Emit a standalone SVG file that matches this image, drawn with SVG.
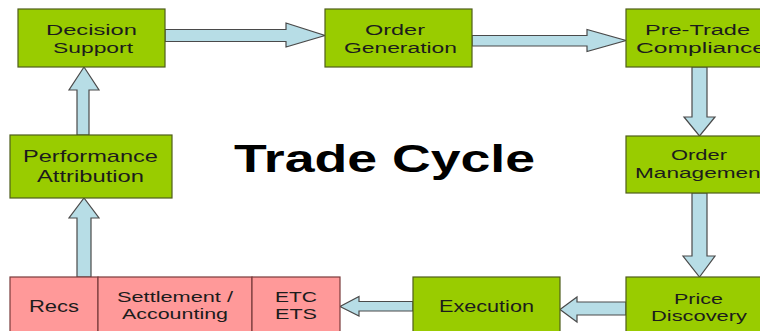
<svg xmlns="http://www.w3.org/2000/svg" width="760" height="331" viewBox="0 0 760 331">
  <style>
    .step { fill: #99cc00; stroke: #4f5e1c; stroke-width: 1.2; }
    .post { fill: #ff9999; stroke: #7a3b3b; stroke-width: 1.2; }
    .flow { fill: #b7dde6; stroke: #4a4a4a; stroke-width: 1.2; stroke-linejoin: miter; }
    .lbl { font-family: "Liberation Sans", Arial, sans-serif; font-size: 17px; fill: #1c1c1c; }
    .sm { font-size: 15.5px; }
    .title { font-family: "Liberation Sans", Arial, sans-serif; font-size: 38px; font-weight: bold; fill: #000; }
  </style>

  <rect width="760" height="331" fill="#ffffff"/>

  <!-- connectors: block arrows -->
  <g id="connectors">
    <!-- Decision Support -> Order Generation -->
    <polygon class="flow" points="165,29.5 286,29.5 286,23 325,35.5 286,47 286,41.5 165,41.5"/>
    <!-- Order Generation -> Pre-Trade Compliance -->
    <polygon class="flow" points="472,35.5 587,35.5 587,29.5 626,40.5 587,51.5 587,46 472,46"/>
    <!-- Pre-Trade Compliance -> Order Management -->
    <polygon class="flow" points="692,67 707,67 707,117 715,117 699.5,136 684,117 692,117"/>
    <!-- Order Management -> Price Discovery -->
    <polygon class="flow" points="692,193 707,193 707,256 715,256 699.5,277 683,256 692,256"/>
    <!-- Price Discovery -> Execution -->
    <polygon class="flow" points="626,302 577,302 577,297 560,309.5 577,322 577,315 626,315"/>
    <!-- Execution -> ETC / ETS -->
    <polygon class="flow" points="413,301.5 359,301.5 359,296.5 340,306.5 359,316 359,311 413,311"/>
    <!-- Recs -> Performance Attribution -->
    <polygon class="flow" points="77,277 77,218 69,218 84,198 99,218 91,218 91,277"/>
    <!-- Performance Attribution -> Decision Support -->
    <polygon class="flow" points="77,135 77,90 69,90 84,67 99,90 89,90 89,135"/>
  </g>

  <!-- title -->
  <text class="title" x="234" y="172" textLength="301" lengthAdjust="spacingAndGlyphs">Trade Cycle</text>

  <g id="decision-support">
    <rect class="step" x="18" y="9" width="147" height="58"/>
    <text class="lbl sm" x="46" y="35" textLength="91" lengthAdjust="spacingAndGlyphs">Decision</text>
    <text class="lbl sm" x="53" y="53" textLength="80" lengthAdjust="spacingAndGlyphs">Support</text>
  </g>

  <g id="order-generation">
    <rect class="step" x="325" y="9" width="147" height="58"/>
    <text class="lbl sm" x="365" y="35" textLength="60" lengthAdjust="spacingAndGlyphs">Order</text>
    <text class="lbl sm" x="344" y="53" textLength="113" lengthAdjust="spacingAndGlyphs">Generation</text>
  </g>

  <g id="pre-trade-compliance">
    <rect class="step" x="626" y="9" width="150" height="58"/>
    <text class="lbl sm" x="645" y="35" textLength="105" lengthAdjust="spacingAndGlyphs">Pre-Trade</text>
    <text class="lbl sm" x="636" y="53" textLength="130" lengthAdjust="spacingAndGlyphs">Compliance</text>
  </g>

  <g id="order-management">
    <rect class="step" x="626" y="136" width="150" height="57"/>
    <text class="lbl sm" x="671" y="160" textLength="56" lengthAdjust="spacingAndGlyphs">Order</text>
    <text class="lbl sm" x="635" y="178" textLength="132" lengthAdjust="spacingAndGlyphs">Management</text>
  </g>

  <g id="price-discovery">
    <rect class="step" x="626" y="277" width="150" height="64"/>
    <text class="lbl sm" x="674" y="304" textLength="49" lengthAdjust="spacingAndGlyphs">Price</text>
    <text class="lbl sm" x="651" y="321" textLength="96" lengthAdjust="spacingAndGlyphs">Discovery</text>
  </g>

  <g id="execution">
    <rect class="step" x="413" y="277" width="147" height="64"/>
    <text class="lbl" x="439" y="312" textLength="95" lengthAdjust="spacingAndGlyphs">Execution</text>
  </g>

  <g id="performance-attribution">
    <rect class="step" x="10" y="135" width="162" height="63"/>
    <text class="lbl" x="23" y="162" textLength="135" lengthAdjust="spacingAndGlyphs">Performance</text>
    <text class="lbl" x="37" y="182" textLength="107" lengthAdjust="spacingAndGlyphs">Attribution</text>
  </g>

  <g id="recs">
    <rect class="post" x="10" y="277" width="88" height="64"/>
    <text class="lbl" x="29" y="312" textLength="50" lengthAdjust="spacingAndGlyphs">Recs</text>
  </g>

  <g id="settlement-accounting">
    <rect class="post" x="98" y="277" width="154" height="64"/>
    <text class="lbl sm" x="117" y="302" textLength="116" lengthAdjust="spacingAndGlyphs">Settlement /</text>
    <text class="lbl sm" x="122" y="319" textLength="106" lengthAdjust="spacingAndGlyphs">Accounting</text>
  </g>

  <g id="etc-ets">
    <rect class="post" x="252" y="277" width="88" height="64"/>
    <text class="lbl sm" x="275" y="302" textLength="42" lengthAdjust="spacingAndGlyphs">ETC</text>
    <text class="lbl sm" x="275" y="319" textLength="42" lengthAdjust="spacingAndGlyphs">ETS</text>
  </g>
</svg>
